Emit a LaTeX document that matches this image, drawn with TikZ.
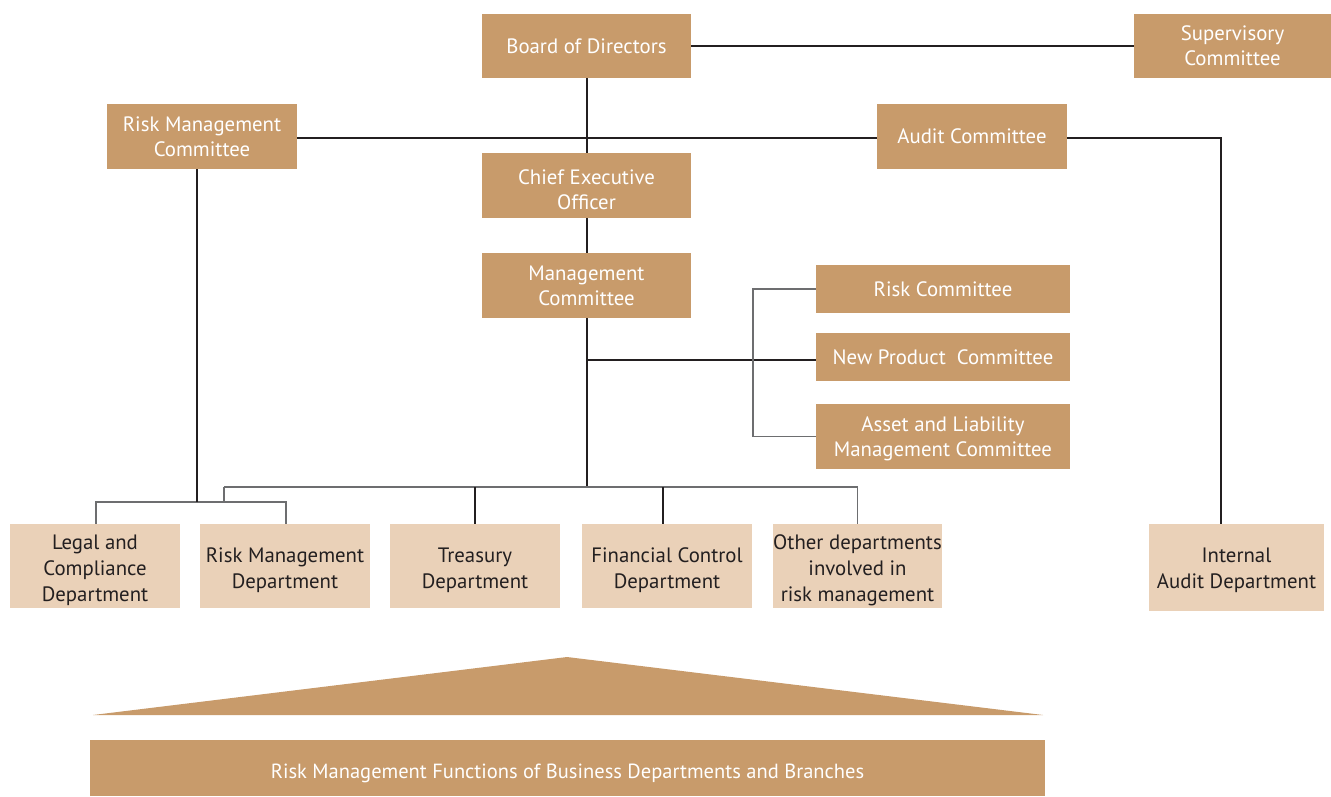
\documentclass[tikz,border=0pt]{standalone}
\usepackage{fontspec}
\setmainfont{PT Sans}
\definecolor{tan}{HTML}{C89B6B}
\definecolor{lighttan}{HTML}{EAD1B8}
\definecolor{ink}{HTML}{231F20}
\definecolor{grayline}{HTML}{6D6E70}
\newcommand{\tstrut}{\rule{0pt}{24pt}}
\newcommand{\hstrut}{\rule{0pt}{20pt}}
\begin{document}
\begin{tikzpicture}[x=1pt,y=-1pt,
  box/.style={rectangle,fill=tan,text=white,inner sep=0pt,align=center,
    font=\fontsize{20.8}{25}\selectfont},
  lbox/.style={rectangle,fill=lighttan,text=ink,inner sep=0pt,align=center,
    font=\fontsize{20.8}{26}\selectfont,minimum width=170pt,minimum height=84pt},
  dk/.style={draw=ink,line width=2pt},
  gr/.style={draw=grayline,line width=1.5pt}]
\useasboundingbox (0,0) rectangle (1331,796);
% top boxes
\node[box,minimum width=209pt,minimum height=64pt] (bod) at (586.5,46) {Board of Directors};
\node[box,minimum width=197pt,minimum height=64pt] (sup) at (1232.5,46) {Supervisory\\Committee};
\node[box,minimum width=190pt,minimum height=65pt] (rmc) at (202,136.5) {Risk Management\\Committee};
\node[box,minimum width=190pt,minimum height=65pt] (aud) at (972,136.5) {Audit Committee};
\node[box,minimum width=209pt,minimum height=65pt] (ceo) at (586.5,185.5) {\tstrut Chief Executive\\Officer};
\node[box,minimum width=209pt,minimum height=65pt] (mc) at (586.5,285.5) {Management\\Committee};
\node[box,minimum width=254pt,minimum height=48pt] (rc) at (943,289) {Risk Committee};
\node[box,minimum width=254pt,minimum height=48pt] (npc) at (943,357) {New Product\ \ Committee};
\node[box,minimum width=254pt,minimum height=65pt] (alm) at (943,436.5) {\hstrut Asset and Liability\\Management Committee};
% bottom departments
\node[lbox] (leg) at (95,566) {\tstrut Legal and\\Compliance\\Department};
\node[lbox] (rmd) at (285,566) {\tstrut Risk Management\\Department};
\node[lbox] (tre) at (475,566) {\tstrut Treasury\\Department};
\node[lbox] (fcd) at (667,566) {\tstrut Financial Control\\Department};
\node[lbox,minimum width=169pt] (oth) at (857.5,566) {\tstrut Other departments\\involved in\\risk management};
\node[lbox,minimum width=175pt,minimum height=87pt] (iad) at (1236.5,567.5) {\hstrut Internal\\Audit Department};
% triangle and bar
\fill[tan] (93,715) -- (567,657) -- (1043,715) -- cycle;
\node[box,minimum width=955pt,minimum height=56pt,font=\fontsize{20.5}{24}\selectfont,
  execute at begin node={\rule{0pt}{25pt}}] (bar) at (567.5,768) {Risk Management Functions of Business Departments and Branches};
% helper coordinates
\coordinate (bus) at (584,487);
\coordinate (busL) at (224,487);
\coordinate (brk) at (224,502);
\coordinate (brx) at (753,289);
% connectors
\draw[dk] (bod) -- (sup);
\draw[dk] (bod.south) -- (ceo.north);
\draw[dk] (rmc.east |- 0,138) -- (aud.west |- 0,138);
\draw[dk] (aud.east |- 0,138) -| ([xshift=-16pt]iad.north);
\draw[dk] (ceo.south) -- (mc.north);
\draw[dk] (mc.south) -- (mc.south |- bus);
\draw[dk] (mc.south |- 0,360) -- (npc.west |- 0,360);
\draw[gr] (rc.west) -- (brx) |- (alm.west);
\draw[gr] (busL) -- (oth.north |- bus) -- (oth.north);
\draw[dk] (tre.north |- bus) -- (tre.north);
\draw[dk] ([xshift=-4pt]fcd.north |- bus) -- ([xshift=-4pt]fcd.north);
\draw[gr] (busL) -- (brk);
\draw[gr] ([xshift=1pt]leg.north) -- ([xshift=1pt]leg.north |- brk) -- ([xshift=1pt]rmd.north |- brk) -- ([xshift=1pt]rmd.north);
\draw[dk] ([xshift=-5pt]rmc.south) -- ([xshift=-5pt]rmc.south |- brk);
\end{tikzpicture}
\end{document}
